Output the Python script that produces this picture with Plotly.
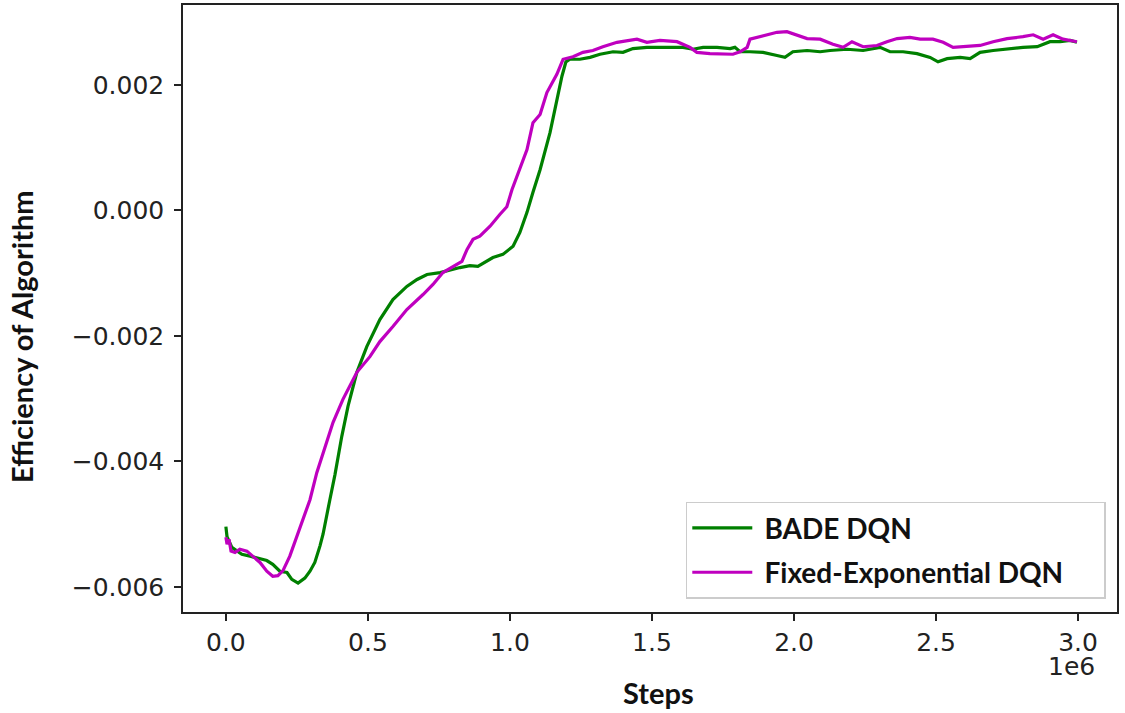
import plotly.graph_objects as go

# Steps in millions (axis shows 1e6 multiplier)
bade_x = [0.000, 0.004, 0.021, 0.056, 0.085, 0.120, 0.144, 0.165, 0.190, 0.215, 0.232, 0.254, 0.278, 0.296,
          0.313, 0.331, 0.342, 0.366, 0.384, 0.408, 0.430, 0.461, 0.496, 0.542, 0.588, 0.637, 0.673, 0.708,
          0.754, 0.824, 0.859, 0.887, 0.940, 0.975, 1.011, 1.035, 1.060, 1.081, 1.106, 1.141, 1.165, 1.183,
          1.197, 1.211, 1.246, 1.282, 1.317, 1.363, 1.398, 1.433, 1.482, 1.528, 1.574, 1.609, 1.644, 1.680,
          1.729, 1.775, 1.792, 1.810, 1.845, 1.891, 1.940, 1.968, 1.996, 2.046, 2.092, 2.127, 2.187, 2.243,
          2.303, 2.338, 2.384, 2.433, 2.479, 2.507, 2.539, 2.585, 2.620, 2.655, 2.701, 2.761, 2.806, 2.856,
          2.901, 2.937, 2.972, 2.996]
bade_y = [-0.00504, -0.00520, -0.00537, -0.00548, -0.00551, -0.00555, -0.00558, -0.00564, -0.00575, -0.00577,
          -0.00588, -0.00594, -0.00586, -0.00575, -0.00561, -0.00535, -0.00516, -0.00461, -0.00421, -0.00360,
          -0.00312, -0.00258, -0.00217, -0.00174, -0.00142, -0.00121, -0.00110, -0.00102, -0.00099, -0.00091,
          -0.00088, -0.00089, -0.00075, -0.00070, -0.00057, -0.00035, -0.00003, 0.00029, 0.00065, 0.00124,
          0.00177, 0.00214, 0.00237, 0.00241, 0.00241, 0.00244, 0.00249, 0.00253, 0.00252, 0.00258, 0.00260,
          0.00260, 0.00261, 0.00260, 0.00257, 0.00260, 0.00260, 0.00258, 0.00260, 0.00253, 0.00253, 0.00252,
          0.00247, 0.00244, 0.00253, 0.00255, 0.00253, 0.00255, 0.00257, 0.00255, 0.00260, 0.00253, 0.00253,
          0.00250, 0.00244, 0.00237, 0.00242, 0.00244, 0.00242, 0.00252, 0.00255, 0.00258, 0.00260, 0.00261,
          0.00269, 0.00269, 0.00271, 0.00268]

fixed_x = [0.000, 0.004, 0.011, 0.018, 0.032, 0.049, 0.074, 0.095, 0.120, 0.144, 0.165, 0.183, 0.201, 0.225,
           0.250, 0.271, 0.296, 0.320, 0.356, 0.377, 0.412, 0.461, 0.507, 0.542, 0.588, 0.637, 0.694, 0.729,
           0.764, 0.799, 0.831, 0.849, 0.870, 0.894, 0.930, 0.965, 0.989, 1.007, 1.035, 1.060, 1.081, 1.106,
           1.130, 1.151, 1.165, 1.187, 1.222, 1.257, 1.292, 1.327, 1.377, 1.447, 1.482, 1.528, 1.588, 1.634,
           1.658, 1.704, 1.750, 1.785, 1.810, 1.835, 1.845, 1.880, 1.940, 1.975, 2.011, 2.046, 2.092, 2.137,
           2.173, 2.204, 2.243, 2.292, 2.327, 2.363, 2.408, 2.444, 2.489, 2.525, 2.560, 2.609, 2.655, 2.701,
           2.750, 2.806, 2.842, 2.877, 2.912, 2.947, 2.996]
fixed_y = [-0.00521, -0.00532, -0.00524, -0.00543, -0.00545, -0.00540, -0.00543, -0.00551, -0.00561, -0.00575,
           -0.00583, -0.00582, -0.00574, -0.00551, -0.00520, -0.00492, -0.00461, -0.00418, -0.00365, -0.00338,
           -0.00301, -0.00258, -0.00233, -0.00209, -0.00185, -0.00158, -0.00134, -0.00118, -0.00099, -0.00089,
           -0.00081, -0.00062, -0.00046, -0.00041, -0.00025, -0.00006, 0.00006, 0.00033, 0.00065, 0.00097,
           0.00140, 0.00153, 0.00188, 0.00206, 0.00217, 0.00241, 0.00245, 0.00252, 0.00255, 0.00261, 0.00268,
           0.00273, 0.00268, 0.00271, 0.00269, 0.00260, 0.00252, 0.00250, 0.00250, 0.00249, 0.00253, 0.00260,
           0.00273, 0.00277, 0.00284, 0.00285, 0.00279, 0.00274, 0.00273, 0.00265, 0.00260, 0.00269, 0.00261,
           0.00263, 0.00269, 0.00274, 0.00276, 0.00273, 0.00273, 0.00268, 0.00260, 0.00261, 0.00263, 0.00269,
           0.00274, 0.00277, 0.00280, 0.00273, 0.00280, 0.00273, 0.00269]

x_ticks = [0.0, 0.5, 1.0, 1.5, 2.0, 2.5, 3.0]
y_ticks = [-0.006, -0.004, -0.002, 0.000, 0.002]

NB = "\u00a0"
fig = go.Figure()
fig.add_trace(go.Scatter(x=bade_x, y=bade_y, mode="lines", name=NB + "<b>BADE DQN</b>" + NB * 5,
                         legendgroup="a", line=dict(color="#008000", width=3.2)))
fig.add_trace(go.Scatter(x=fixed_x, y=fixed_y, mode="lines", name=NB + "<b>Fixed-Exponential DQN</b>" + NB * 5,
                         legendgroup="b", line=dict(color="#bf00bf", width=3.2)))

axis_common = dict(showgrid=False, zeroline=False, showline=True, linecolor="#222", linewidth=1.5,
                   mirror=True, ticks="outside", ticklen=7, tickwidth=1.5, tickcolor="#222",
                   automargin=False,
                   tickfont=dict(family="DejaVu Sans", size=25, color="#222"))

title_font = dict(family="Lato", size=29, color="#111")

fig.update_layout(
    width=1125, height=713,
    margin=dict(l=183, r=8, t=5, b=101),
    paper_bgcolor="white", plot_bgcolor="white",
    xaxis=dict(range=[-0.151, 3.137], tickvals=x_ticks, tickformat=".1f", **axis_common),
    yaxis=dict(range=[-0.0064, 0.003275], tickvals=y_ticks, tickformat=".3f", ticklabelstandoff=5,
               **axis_common),
    legend=dict(x=0.988, y=0.022, xanchor="right", yanchor="bottom",
                bgcolor="white", bordercolor="#cccccc", borderwidth=1.5,
                font=dict(family="Lato", size=28, color="#111"),
                itemwidth=60, tracegroupgap=5),
    showlegend=True,
)
# axis titles (placed as in the reference, slightly off-centre)
fig.add_annotation(text="<b>Steps</b>", xref="paper", yref="paper", x=0.5086, y=-0.1334,
                   xanchor="center", yanchor="middle", showarrow=False, font=title_font)
fig.add_annotation(text="<b>Efficiency of Algorithm</b>", xref="paper", yref="paper", x=-0.1724, y=0.4547,
                   xanchor="center", yanchor="middle", textangle=-90, showarrow=False, font=title_font)
fig.add_annotation(text="1e6", xref="paper", yref="paper", x=0.979, y=-0.09, xanchor="right", yanchor="middle",
                   showarrow=False, font=dict(family="DejaVu Sans", size=25, color="#222"))

fig.write_html("out.html", config={"displayModeBar": False},
               post_script="document.body.style.margin='0';")
